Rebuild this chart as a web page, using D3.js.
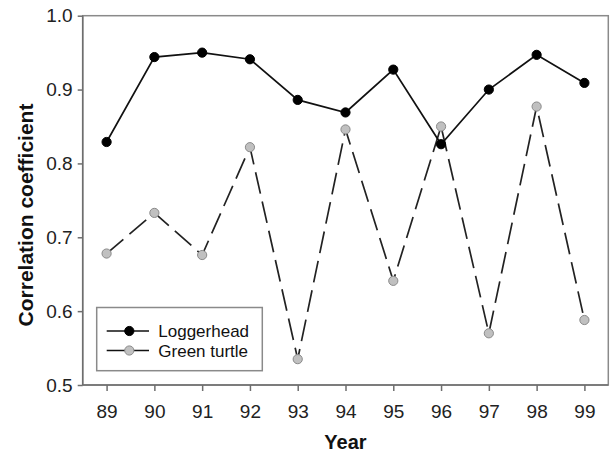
<!DOCTYPE html>
<html>
<head>
<meta charset="utf-8">
<script src="https://cdn.jsdelivr.net/npm/d3@7"></script>
<style>
  body { margin: 0; background: #fff; }
  svg { display: block; }
  text { font-family: "Liberation Sans", Arial, sans-serif; }
</style>
</head>
<body>
<svg id="chart" width="611" height="454"></svg>
<script>
const years = [89, 90, 91, 92, 93, 94, 95, 96, 97, 98, 99];
const loggerhead = [0.829, 0.944, 0.950, 0.941, 0.886, 0.869, 0.927, 0.826, 0.900, 0.947, 0.909];
const greenTurtle = [0.678, 0.733, 0.676, 0.822, 0.535, 0.846, 0.641, 0.850, 0.570, 0.877, 0.588];
const yTicks = [0.5, 0.6, 0.7, 0.8, 0.9, 1.0];
const seriesNames = ["Loggerhead", "Green turtle"];

(function () {
const svg = d3.select("#chart");
const pL = 82.7, pR = 608.3, pT = 15.7, pB = 385;

const x = d3.scaleLinear().domain([88.5, 99.5]).range([pL, pR]);
const y = d3.scaleLinear().domain([0.5, 1.0]).range([pB, pT]);

const axisColor = "#6e6e6e";

// frame
svg.append("rect")
  .attr("x", pL).attr("y", pT)
  .attr("width", pR - pL).attr("height", pB - pT)
  .attr("fill", "none").attr("stroke", "#8a8a8a").attr("stroke-width", 1.5);

// axes
const yAxis = svg.append("g").attr("transform", `translate(${pL},0)`)
  .call(d3.axisLeft(y).tickValues(yTicks).tickFormat(d3.format(".1f")).tickSize(5).tickPadding(5));
const xAxis = svg.append("g").attr("transform", `translate(0,${pB})`)
  .call(d3.axisBottom(x).tickValues(years).tickFormat(d => d).tickSize(6).tickPadding(14));
[yAxis, xAxis].forEach(g => {
  g.select(".domain").attr("stroke", axisColor).attr("stroke-width", 1.5);
  g.selectAll(".tick line").attr("stroke", axisColor).attr("stroke-width", 1.5);
  g.selectAll(".tick text").attr("fill", "#222").attr("font-size", 19)
    .attr("font-family", "'Liberation Sans', Arial, sans-serif");
});
xAxis.select(".domain").attr("d", `M${pL},0H${pR}`);
yAxis.select(".domain").attr("d", `M0,${pB}V${pT}`);

// axis titles
svg.append("text")
  .attr("x", (pL + pR) / 2).attr("y", 449)
  .attr("text-anchor", "middle").attr("font-size", 20).attr("font-weight", "bold")
  .attr("fill", "#111").text("Year");
svg.append("text")
  .attr("transform", `translate(33,215) rotate(-90)`)
  .attr("text-anchor", "middle").attr("font-size", 21).attr("font-weight", "bold")
  .attr("fill", "#111").text("Correlation coefficient");

const line = d3.line().x((d, i) => x(years[i])).y(d => y(d));

// Green turtle (dashed, grey markers)
svg.append("path").datum(greenTurtle)
  .attr("d", line).attr("fill", "none")
  .attr("stroke", "#222").attr("stroke-width", 1.7)
  .attr("stroke-dasharray", "22,8");
svg.append("g").selectAll("circle").data(greenTurtle).join("circle")
  .attr("cx", (d, i) => x(years[i])).attr("cy", d => y(d)).attr("r", 4.6)
  .attr("fill", "#c0c0c0").attr("stroke", "#8a8a8a").attr("stroke-width", 1);

// Loggerhead (solid, black markers)
svg.append("path").datum(loggerhead)
  .attr("d", line).attr("fill", "none")
  .attr("stroke", "#111").attr("stroke-width", 1.7);
svg.append("g").selectAll("circle").data(loggerhead).join("circle")
  .attr("cx", (d, i) => x(years[i])).attr("cy", d => y(d)).attr("r", 4.6)
  .attr("fill", "#000").attr("stroke", "#000").attr("stroke-width", 1);

// legend
const lg = svg.append("g");
lg.append("rect").attr("x", 96.7).attr("y", 307.5).attr("width", 165.6).attr("height", 63.2)
  .attr("fill", "#fff").attr("stroke", "#8a8a8a").attr("stroke-width", 1.5);
const styles = [
  { fill: "#000", stroke: "#000" },
  { fill: "#c0c0c0", stroke: "#8a8a8a" }
];
seriesNames.forEach((name, i) => {
  const cy = 331 + i * 19.5;
  lg.append("line").attr("x1", 106.7).attr("x2", 149).attr("y1", cy).attr("y2", cy)
    .attr("stroke", "#111").attr("stroke-width", 1.7);
  lg.append("circle").attr("cx", 129.3).attr("cy", cy).attr("r", 4.6)
    .attr("fill", styles[i].fill).attr("stroke", styles[i].stroke).attr("stroke-width", 1);
  lg.append("text").attr("x", 158.3).attr("y", cy + 6).attr("font-size", 17)
    .attr("fill", "#111").text(name);
});
})();
</script>
</body>
</html>
